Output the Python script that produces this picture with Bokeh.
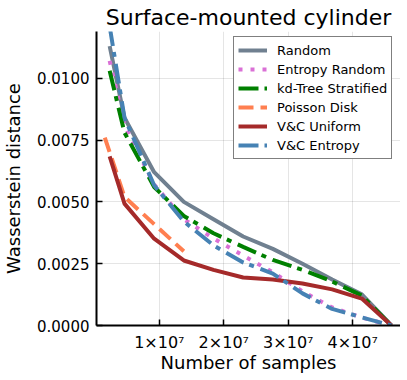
from bokeh.plotting import figure
from bokeh.models import FixedTicker, CustomJSTickFormatter, Range1d, Legend, LegendItem
from bokeh.embed import file_html
from bokeh.resources import INLINE

# ---- data ----
samples = [2.3e6, 4.6e6, 9.2e6, 1.38e7, 1.84e7, 2.3e7, 2.76e7, 3.22e7, 3.68e7, 4.14e7, 4.6e7]
random_vals = [0.0113, 0.0084, 0.0062, 0.0050, 0.0043, 0.0036, 0.0031, 0.0025, 0.00186, 0.00126, 0.0]
entropy_random = [0.0107, 0.0081, 0.0057, 0.0043, 0.00352, 0.00283, 0.00215, 0.00138, 0.00073, 0.00032, 0.0]
kd_tree = [0.0103, 0.0078, 0.0056, 0.00443, 0.00373, 0.00318, 0.00265, 0.00225, 0.00178, 0.00121, 0.0]
poisson_samples = [1.55e6, 4.6e6, 9.2e6, 1.38e7]
poisson_disk = [0.0076, 0.0052, 0.0041, 0.0030]
vc_uniform = [0.00684, 0.00493, 0.00351, 0.00263, 0.00225, 0.00194, 0.00186, 0.0017, 0.00146, 0.00109, 0.0]
vc_entropy = [0.0121, 0.0084, 0.00567, 0.00421, 0.00324, 0.00255, 0.0021, 0.0013, 0.00067, 0.00033, 0.0]

x_ticks = [1e7, 2e7, 3e7, 4e7]
x_tick_labels = ["1×10⁷", "2×10⁷", "3×10⁷", "4×10⁷"]
y_ticks = [0.0, 0.0025, 0.005, 0.0075, 0.01]
y_tick_labels = ["0.0000", "0.0025", "0.0050", "0.0075", "0.0100"]

FONT = "DejaVu Sans"

p = figure(frame_width=304, frame_height=294, output_backend="svg", toolbar_location=None,
           x_range=Range1d(2.6e5, 4.74e7), y_range=Range1d(0, 0.01189),
           min_border_left=87, min_border_right=0, min_border_top=23, min_border_bottom=0,
           title="Surface-mounted cylinder")
p.outline_line_color = None
p.background_fill_color = "white"
p.title.text_font = FONT
p.title.text_font_size = "22px"
p.title.text_font_style = "normal"
p.title.text_color = "black"
p.title.align = "center"
p.title.standoff = 4
p.title.offset = 0

def fmt(tvals, tlabels):
    return CustomJSTickFormatter(args=dict(tvals=tvals, tlabels=tlabels), code="""
        let best = 0, bd = Infinity;
        for (let i = 0; i < tvals.length; i++) {
            const d = Math.abs(tvals[i] - tick);
            if (d < bd) { bd = d; best = i; }
        }
        return tlabels[best];
    """)

xa = p.xaxis[0]
ya = p.yaxis[0]
xa.ticker = FixedTicker(ticks=x_ticks)
ya.ticker = FixedTicker(ticks=y_ticks)
xa.formatter = fmt(x_ticks, x_tick_labels)
ya.formatter = fmt(y_ticks, y_tick_labels)
for ax in (xa, ya):
    ax.axis_line_color = "black"
    ax.axis_line_width = 2
    ax.major_tick_line_color = "black"
    ax.major_tick_line_width = 1.5
    ax.major_tick_in = 6
    ax.major_tick_out = 0
    ax.minor_tick_line_color = None
    ax.major_label_text_font = FONT
    ax.major_label_text_color = "black"
    ax.axis_label_text_font = FONT
    ax.axis_label_text_font_size = "18px"
    ax.axis_label_text_font_style = "normal"
    ax.axis_label_text_color = "black"
xa.major_label_text_font_size = "16px"
ya.major_label_text_font_size = "15px"
xa.axis_label = "Number of samples"
ya.axis_label = "Wasserstein distance"
xa.major_label_standoff = 7
xa.axis_label_standoff = -3
ya.major_label_standoff = 7
ya.axis_label_standoff = 10

p.xgrid.ticker = FixedTicker(ticks=x_ticks)
p.ygrid.ticker = FixedTicker(ticks=y_ticks)
for g in (p.xgrid[0], p.ygrid[0]):
    g.grid_line_color = "black"
    g.grid_line_alpha = 0.1
    g.grid_line_width = 1

W = 4
r1 = p.line(samples, random_vals, line_color="#708090", line_width=W)
r2 = p.line(samples, entropy_random, line_color="#DA70D6", line_width=W, line_dash="4 8")
r3 = p.line(samples, kd_tree, line_color="#008000", line_width=W, line_dash="20 6 5 7")
r4 = p.line(poisson_samples, poisson_disk, line_color="#FF7F50", line_width=W, line_dash="15 7")
r5 = p.line(samples, vc_uniform, line_color="#A52A2A", line_width=W)
r6 = p.line(samples, vc_entropy, line_color="#4682B4", line_width=W, line_dash="20 6 5 7")

legend = Legend(items=[
    LegendItem(label="Random", renderers=[r1]),
    LegendItem(label="Entropy Random", renderers=[r2]),
    LegendItem(label="kd-Tree Stratified", renderers=[r3]),
    LegendItem(label="Poisson Disk", renderers=[r4]),
    LegendItem(label="V&C Uniform", renderers=[r5]),
    LegendItem(label="V&C Entropy", renderers=[r6]),
], location=(137, 166))
legend.margin = 0
legend.padding = 4
legend.spacing = 1
legend.glyph_width = 29
legend.glyph_height = 18
legend.label_height = 18
legend.label_standoff = 10
legend.label_text_font = FONT
legend.label_text_font_size = "13px"
legend.label_text_color = "black"
legend.border_line_color = "black"
legend.border_line_width = 1.5
legend.background_fill_color = "white"
legend.background_fill_alpha = 1.0
p.add_layout(legend, "center")

open("out.html", "w").write(file_html(p, INLINE))
